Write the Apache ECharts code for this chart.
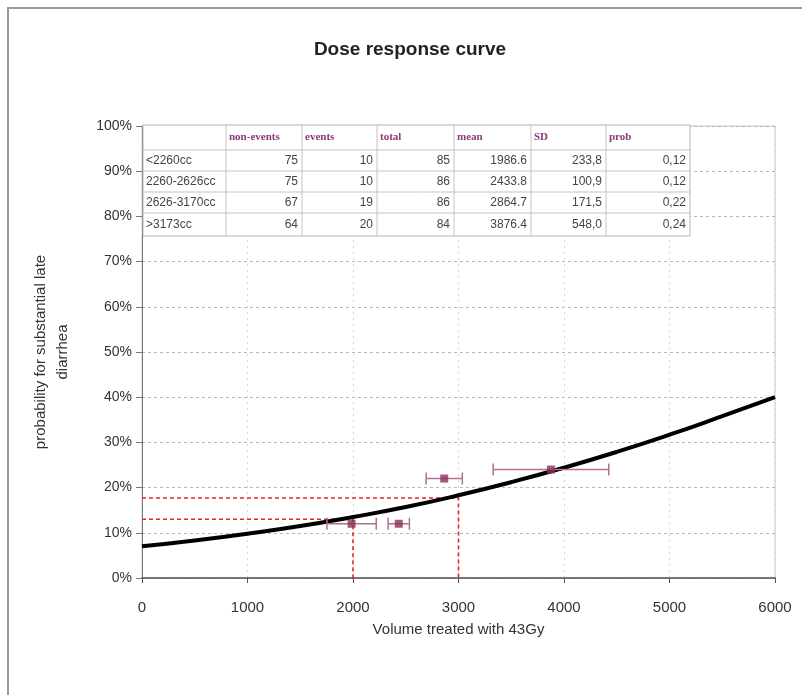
<!DOCTYPE html>
<html>
<head>
<meta charset="utf-8">
<script src="https://cdn.jsdelivr.net/npm/echarts@6/dist/echarts.min.js"></script>
<style>
html,body{margin:0;padding:0;background:#fff;}
#chart{width:802px;height:695px;}
</style>
</head>
<body>
<div id="chart"></div>
<script>
// ---- data ----
var titleText = 'Dose response curve';
var xAxisName = 'Volume treated with 43Gy';
var yAxisName = 'probability for substantial late\ndiarrhea';

// fitted dose-response curve, read at 500cc steps
var curveX = [0, 500, 1000, 1500, 2000, 2500, 3000, 3500, 4000, 4500, 5000, 5500, 6000];
var curveY = [0.070, 0.083, 0.098, 0.115, 0.135, 0.157, 0.183, 0.212, 0.244, 0.279, 0.317, 0.358, 0.400];

// table / observed groups
var groupLabels = ['<2260cc', '2260-2626cc', '2626-3170cc', '>3173cc'];
var nonEvents = [75, 75, 67, 64];
var events = [10, 10, 19, 20];
var totals = [85, 86, 86, 84];
var means = [1986.6, 2433.8, 2864.7, 3876.4];
var sds = [233.8, 100.9, 171.5, 548.0];
var probs = [0.12, 0.12, 0.22, 0.24];
var tableHeaders = ['non-events', 'events', 'total', 'mean', 'SD', 'prob'];

// red dashed reading lines (x, probability read on curve)
var refX = [2000, 3000];
var refY = [0.130, 0.177];

var xTicks = {min: 0, max: 6000, interval: 1000};
var yTicks = {min: 0, max: 1, interval: 0.1};

// ---- chart ----
var chart = echarts.init(document.getElementById('chart'));

var curveData = curveX.map(function (x, i) { return [x, curveY[i]]; });
var pointData = means.map(function (m, i) { return [m, probs[i]]; });
var errData = means.map(function (m, i) { return [m - sds[i], m + sds[i], probs[i]]; });

var refSeries = refX.map(function (x, i) {
  return {
    type: 'line', data: [[0, refY[i]], [x, refY[i]], [x, 0]],
    symbol: 'none', silent: true, z: 3,
    lineStyle: {color: '#e8262a', width: 1.6, type: [4, 3]}
  };
});

// table graphics
var colX = [143, 226, 302, 377, 454, 531, 606, 690];
var rowY = [125, 150, 171, 192, 213, 236];
var tableEls = [];
tableEls.push({type: 'rect', shape: {x: colX[0], y: rowY[0], width: colX[colX.length-1]-colX[0], height: rowY[rowY.length-1]-rowY[0]},
  style: {fill: '#fff', stroke: '#b5b5b5', lineWidth: 1}, z: 10});
for (var c = 1; c < colX.length - 1; c++) {
  tableEls.push({type: 'line', shape: {x1: colX[c], y1: rowY[0], x2: colX[c], y2: rowY[rowY.length-1]}, style: {stroke: '#c4c4c4', lineWidth: 1}, z: 11});
}
for (var r = 1; r < rowY.length - 1; r++) {
  tableEls.push({type: 'line', shape: {x1: colX[0], y1: rowY[r], x2: colX[colX.length-1], y2: rowY[r]}, style: {stroke: '#c4c4c4', lineWidth: 1}, z: 11});
}
tableHeaders.forEach(function (h, i) {
  tableEls.push({type: 'text', x: colX[i+1] + 3, y: (rowY[0] + rowY[1]) / 2, z: 12,
    style: {text: h, fill: '#8a3a78', font: 'bold 11px "Liberation Serif", serif', textVerticalAlign: 'middle', textAlign: 'left'}});
});
var fmtComma = function (v, d) { return v.toFixed(d).replace('.', ','); };
groupLabels.forEach(function (lab, r) {
  var cy = (rowY[r+1] + rowY[r+2]) / 2;
  var cells = [String(nonEvents[r]), String(events[r]), String(totals[r]), means[r].toFixed(1), fmtComma(sds[r], 1), fmtComma(probs[r], 2)];
  tableEls.push({type: 'text', x: colX[0] + 3, y: cy, z: 12,
    style: {text: lab, fill: '#444', font: '12px "Liberation Sans Narrow", "Liberation Sans", sans-serif', textVerticalAlign: 'middle', textAlign: 'left'}});
  cells.forEach(function (t, i) {
    tableEls.push({type: 'text', x: colX[i+2] - 4, y: cy, z: 12,
      style: {text: t, fill: '#444', font: '12px "Liberation Sans Narrow", "Liberation Sans", sans-serif', textVerticalAlign: 'middle', textAlign: 'right'}});
  });
});

var option = {
  backgroundColor: '#fff',
  animation: false,
  textStyle: {fontFamily: '"Liberation Sans", Arial, sans-serif'},
  title: {
    text: titleText, left: 405, textAlign: 'center', top: 35,
    textStyle: {fontSize: 19, fontWeight: 'bold', color: '#222', fontFamily: '"Liberation Sans", Arial, sans-serif'}
  },
  graphic: [
    {type: 'rect', shape: {x: 8, y: 8, width: 820, height: 720}, style: {fill: 'none', stroke: '#9a9a9a', lineWidth: 2}, z: 0, silent: true},
    {type: 'group', children: tableEls, z: 10}
  ],
  grid: {left: 142, right: 27, top: 126, bottom: 117, show: true, borderColor: '#c8c8c8', borderWidth: 1, backgroundColor: 'transparent'},
  xAxis: {
    type: 'value', min: xTicks.min, max: xTicks.max, interval: xTicks.interval,
    name: xAxisName, nameLocation: 'middle', nameGap: 44,
    nameTextStyle: {fontSize: 15, color: '#333'},
    axisLine: {show: true, onZero: false, lineStyle: {color: '#555', width: 1.5}},
    axisTick: {show: true, length: 5, lineStyle: {color: '#555'}},
    axisLabel: {fontSize: 15, color: '#333', margin: 22, formatter: function (v) { return String(v); }},
    splitLine: {show: true, lineStyle: {color: '#d6d6d6', type: [2, 4]}}
  },
  yAxis: {
    type: 'value', min: yTicks.min, max: yTicks.max, interval: yTicks.interval,
    name: yAxisName, nameLocation: 'middle', nameGap: 68, nameRotate: 90,
    nameTextStyle: {fontSize: 15, color: '#333', lineHeight: 22, align: 'center'},
    axisLine: {show: true, onZero: false, lineStyle: {color: '#777', width: 1}},
    axisTick: {show: true, length: 6, lineStyle: {color: '#777'}},
    axisLabel: {fontSize: 14, color: '#333', margin: 10, formatter: function (v) { return Math.round(v * 100) + '%'; }},
    splitLine: {show: true, lineStyle: {color: '#b8b8b8', type: [3, 3]}}
  },
  series: [
    {
      type: 'line', data: curveData, smooth: true, symbol: 'none', z: 4,
      lineStyle: {color: '#000', width: 4}
    },
    {
      type: 'custom', z: 5,
      data: errData,
      renderItem: function (params, api) {
        var y = api.value(2);
        var p1 = api.coord([api.value(0), y]);
        var p2 = api.coord([api.value(1), y]);
        var cap = 6;
        var st = {stroke: '#b0708f', lineWidth: 1.5};
        return {type: 'group', children: [
          {type: 'line', shape: {x1: p1[0], y1: p1[1], x2: p2[0], y2: p2[1]}, style: st},
          {type: 'line', shape: {x1: p1[0], y1: p1[1] - cap, x2: p1[0], y2: p1[1] + cap}, style: st},
          {type: 'line', shape: {x1: p2[0], y1: p2[1] - cap, x2: p2[0], y2: p2[1] + cap}, style: st}
        ]};
      },
      encode: {x: [0, 1], y: 2}
    },
    {
      type: 'scatter', data: pointData, symbol: 'rect', symbolSize: 8, z: 6,
      itemStyle: {color: '#8c2e5c'}
    }
  ].concat(refSeries)
};
chart.setOption(option);
</script>
</body>
</html>
